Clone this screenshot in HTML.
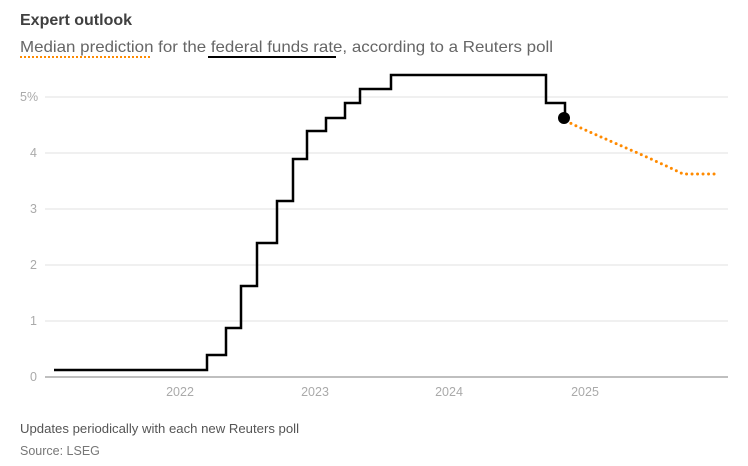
<!DOCTYPE html>
<html><head><meta charset="utf-8"><style>
body{margin:0;background:#fff;width:748px;height:461px;overflow:hidden;font-family:"Liberation Sans",sans-serif}
</style></head><body>
<svg width="748" height="461" xmlns="http://www.w3.org/2000/svg" font-family="Liberation Sans, sans-serif">
<text x="20" y="25" font-size="16" font-weight="bold" fill="#404040">Expert outlook</text>
<text x="20" y="52" font-size="16" fill="#666" textLength="533" lengthAdjust="spacingAndGlyphs">Median prediction for the federal funds rate, according to a Reuters poll</text>
<line x1="20" y1="57" x2="152" y2="57" stroke="#ff8a00" stroke-width="2" stroke-dasharray="2,2"/>
<line x1="208" y1="57" x2="336" y2="57" stroke="#000" stroke-width="2"/>
<g stroke="#e0e0e0" stroke-width="1">
<line x1="45" y1="97" x2="728" y2="97"/><line x1="45" y1="153" x2="728" y2="153"/>
<line x1="45" y1="209" x2="728" y2="209"/><line x1="45" y1="265" x2="728" y2="265"/>
<line x1="45" y1="321" x2="728" y2="321"/>
</g>
<line x1="45" y1="377" x2="728" y2="377" stroke="#aaa" stroke-width="1.5"/>
<g font-size="12.5" fill="#aaa">
<text x="20" y="101">5%</text><text x="30" y="157">4</text><text x="30" y="213">3</text>
<text x="30" y="269">2</text><text x="30" y="325">1</text><text x="30" y="381">0</text>
<text x="180" y="396" text-anchor="middle">2022</text><text x="315" y="396" text-anchor="middle">2023</text>
<text x="449" y="396" text-anchor="middle">2024</text><text x="585" y="396" text-anchor="middle">2025</text>
</g>
<path d="M54,370 H207 V355 H226 V328 H241 V286 H257 V243 H277 V201 H293 V159 H307 V131 H326 V118 H345 V103 H360 V89 H391 V75 H546 V103 H565 V118" fill="none" stroke="#000" stroke-width="2.5"/>
<path d="M566,121 C590,133 640,153 683,174 L715,174" fill="none" stroke="#ff8a00" stroke-width="3" stroke-linecap="round" stroke-dasharray="0,5.5"/>
<circle cx="564" cy="118" r="6" fill="#000"/>
<text x="20" y="433" font-size="12.5" fill="#555" textLength="279" lengthAdjust="spacingAndGlyphs">Updates periodically with each new Reuters poll</text>
<text x="20" y="455" font-size="12.5" fill="#777">Source: LSEG</text>
</svg>
</body></html>
